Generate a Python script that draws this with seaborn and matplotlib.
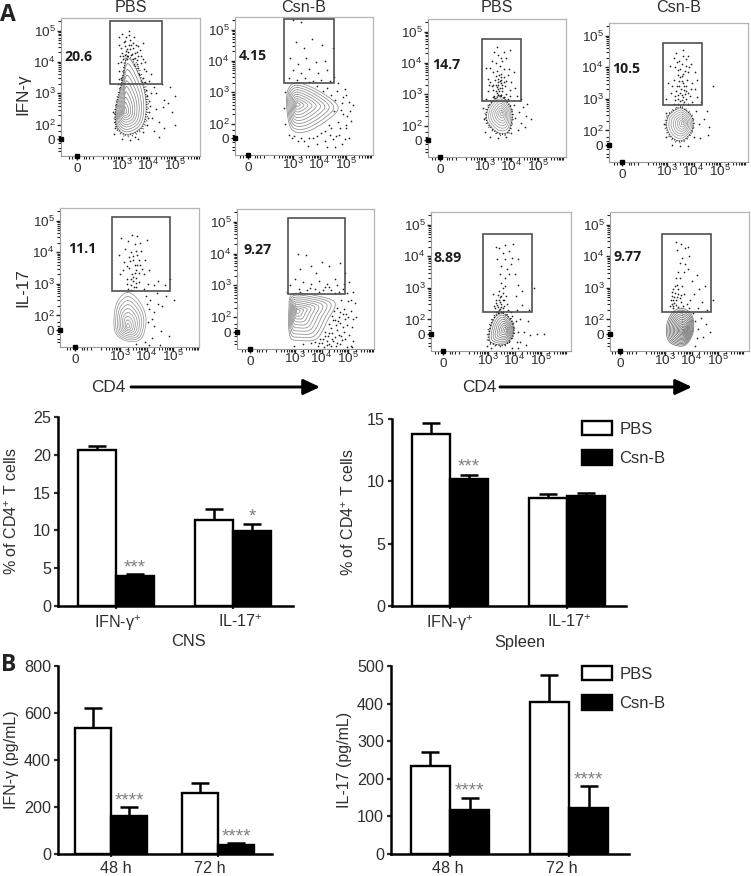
import numpy as np
import pandas as pd
import matplotlib
matplotlib.use("Agg")
import matplotlib.pyplot as plt
from matplotlib.patches import Patch, Rectangle, FancyArrowPatch
from matplotlib.transforms import ScaledTranslation
import seaborn as sns

W, H = 751, 876
DARK = "#2e2e2e"
sns.set_theme(style="white")
plt.rcParams["font.family"] = ["Liberation Sans", "DejaVu Sans"]
plt.rcParams["mathtext.fontset"] = "custom"
plt.rcParams["mathtext.rm"] = "Liberation Sans"
plt.rcParams["text.color"] = DARK
plt.rcParams["axes.labelcolor"] = DARK
plt.rcParams["xtick.color"] = DARK
plt.rcParams["ytick.color"] = DARK

# ---------- bar chart data ----------
TREATMENTS = ["PBS", "Csn-B"]
CNS_GROUPS = ["IFN-γ$^{+}$", "IL-17$^{+}$"]
CNS_PBS = [20.6, 11.4]
CNS_CSN = [4.0, 9.9]
CNS_PBS_TOP = [21.1, 12.8]
CNS_CSN_TOP = [4.2, 10.9]
CNS_STARS = ["***", "*"]

SPL_PBS = [13.8, 8.65]
SPL_CSN = [10.2, 8.8]
SPL_PBS_TOP = [14.7, 8.95]
SPL_CSN_TOP = [10.5, 9.05]
SPL_STARS = ["***", ""]

TIMES = ["48 h", "72 h"]
IFN_PBS = [538, 260]
IFN_CSN = [162, 38]
IFN_PBS_TOP = [620, 303]
IFN_CSN_TOP = [200, 48]
IFN_STARS = ["****", "****"]

IL_PBS = [235, 405]
IL_CSN = [118, 123]
IL_PBS_TOP = [272, 475]
IL_CSN_TOP = [150, 181]
IL_STARS = ["****", "****"]

# ---------- flow panel data (axes in decades; 1.3 is the "0" tick) ----------
FLOW_TITLES = ["PBS", "Csn-B", "PBS", "Csn-B", "", "", "", ""]
FLOW_PERCENT = ["20.6", "4.15", "14.7", "10.5", "11.1", "9.27", "8.89", "9.77"]
GATES = [(2.55, 4.51, 3.30, 5.30), (2.66, 4.55, 3.30, 5.34),
         (2.89, 4.36, 2.80, 4.77), (2.85, 4.32, 2.80, 4.77),
         (2.70, 4.89, 2.77, 5.11), (2.74, 4.89, 2.73, 5.11),
         (2.81, 4.66, 2.23, 4.70), (2.89, 4.74, 2.23, 4.70)]
PEAKS = [(3.11, 2.42), (3.15, 2.61), (3.64, 2.38), (3.60, 2.23),
         (3.30, 1.65), (3.08, 2.19), (3.68, 1.65), (3.68, 1.65)]
OUTLINE_1 = [(3.23, 4.13), (3.75, 3.34), (3.91, 2.57), (3.75, 1.94), (3.19, 1.69), (2.81, 1.94), (2.77, 2.48), (3.00, 3.34)]
OUTLINE_2 = [(3.19, 3.30), (4.02, 3.02), (4.70, 2.54), (4.32, 2.13), (3.53, 1.75), (2.96, 1.81), (2.77, 2.45), (2.81, 3.08)]
OUTLINE_3 = [(3.60, 2.92), (3.94, 2.61), (4.02, 2.26), (3.87, 1.81), (3.49, 1.78), (3.11, 2.10), (3.08, 2.45), (3.30, 2.77)]
OUTLINE_4 = [(3.57, 2.70), (3.94, 2.42), (3.94, 2.00), (3.60, 1.69), (3.23, 1.75), (3.00, 2.07), (3.04, 2.42), (3.30, 2.64)]
OUTLINE_5 = [(3.30, 2.73), (3.75, 2.42), (3.98, 1.90), (3.83, 1.30), (3.38, 1.17), (2.89, 1.37), (2.77, 1.78), (2.89, 2.42)]
OUTLINE_6 = [(2.92, 2.73), (3.83, 2.67), (4.51, 2.45), (4.25, 1.94), (3.83, 1.33), (3.19, 1.27), (2.81, 1.40), (2.77, 2.26)]
OUTLINE_7 = [(3.57, 2.19), (3.91, 1.91), (3.94, 1.50), (3.64, 1.21), (3.19, 1.24), (3.04, 1.43), (3.15, 1.88), (3.34, 2.13)]
OUTLINE_8 = [(3.64, 2.35), (4.02, 2.13), (4.06, 1.59), (3.75, 1.18), (3.30, 1.21), (3.08, 1.43), (3.08, 1.88), (3.30, 2.23)]
OUTLINES = [OUTLINE_1, OUTLINE_2, OUTLINE_3, OUTLINE_4, OUTLINE_5, OUTLINE_6, OUTLINE_7, OUTLINE_8]
LEVEL_COUNT = [10, 10, 8, 8, 9, 10, 9, 13]
CONTOUR_GREY = ["#8c8c8c", "#8c8c8c", "#9a9a9a", "#9a9a9a", "#999999", "#8c8c8c", "#808080", "#6e6e6e"]
RING_WEIGHT = [1.0, 0.0, 1.1, 1.0, 0.0, 0.0, 1.2, 0.0]

DOTS_1 = [(3.0,4.3),(3.1,4.5),(3.2,4.2),(3.3,4.4),(3.4,4.1),(3.5,4.3),(2.95,4.0),(3.05,4.1),(3.45,3.9),(3.55,4.05),
 (3.6,3.8),(2.9,3.7),(2.95,3.5),(3.65,3.6),(3.7,3.4),(2.85,3.3),(3.15,4.8),(3.3,4.7),(2.9,4.8),(3.0,4.9),(3.25,5.0),
 (3.4,4.6),(3.6,4.5),(3.7,4.2),(3.85,4.0),(3.9,3.7),(3.8,3.5),(4.1,3.6),(4.0,3.4),(4.2,3.2),(4.5,3.3),(4.8,3.2),
 (5.0,2.9),(4.6,2.8),(4.3,2.5),(4.9,2.4),(4.4,2.1),(5.0,2.0),(4.6,1.9),(4.2,1.8),(4.1,3.0),(4.05,2.6),(3.98,2.2),
 (3.95,2.9),(3.0,1.55),(3.3,1.5),(3.6,1.55),(2.7,1.7),(3.8,4.6),(2.75,2.1),(2.65,2.4),(3.15,4.35),(3.25,4.55),
 (3.38,4.25),(3.08,4.62),(2.98,4.45),(3.52,4.55),(3.12,4.22),(3.42,4.45),(3.22,4.32),(2.92,4.2),(3.62,4.2),(3.72,3.95),
 (4.3,3.0),(4.55,2.55),(4.75,2.7),(4.15,2.2),(4.4,1.6),(3.02,4.18),(3.18,4.08),(3.35,4.22),(3.48,4.14),(3.58,3.94),
 (3.12,4.68),(3.28,4.86),(3.44,4.78),(2.88,4.55),(3.68,4.38),(3.78,4.1),(3.82,3.78),(3.58,4.32),(3.18,4.42),(3.35,4.55),
 (2.84,3.95),(2.88,3.45),(3.88,3.35),(3.92,3.1),(4.0,2.75),(4.02,2.4),(3.95,2.0),(3.8,1.75),(3.5,1.62),(2.72,1.9)]
DOTS_2 = [(3.0,5.3),(3.3,5.25),(3.1,4.6),(3.4,4.4),(3.7,4.7),(4.1,4.5),(2.9,4.1),(3.2,3.9),(3.5,4.1),(3.85,3.95),
 (4.2,4.0),(4.5,4.4),(3.0,3.7),(3.3,3.6),(3.6,3.75),(3.95,3.6),(4.3,3.7),(4.55,3.5),(2.85,3.45),(3.15,3.4),(3.45,3.45),
 (3.75,3.35),(4.05,3.4),(4.4,3.35),(4.7,3.3),(4.95,3.1),(5.0,2.9),(4.65,3.05),(4.3,3.15),(5.1,2.7),(4.85,2.65),(5.15,2.4),
 (4.9,2.3),(5.2,2.1),(4.7,2.05),(5.0,1.85),(4.45,1.85),(4.75,1.65),(5.1,1.55),(4.2,1.75),(4.5,1.5),(3.9,1.6),(4.2,1.45),
 (4.85,1.35),(3.6,1.55),(3.9,1.35),(3.3,1.55),(3.55,1.3),(3.05,1.6),(2.85,1.65),(2.7,2.0),(2.65,2.5),(2.7,3.0),(4.6,1.25),
 (4.3,1.25),(5.0,1.95),(4.9,2.85),(4.6,2.75),(4.45,2.9),(5.25,2.6),(4.15,3.05),(3.9,3.2),(3.6,3.32),(4.8,2.45),(4.55,2.4),
 (4.35,1.95),(4.05,1.7),(3.75,1.55),(3.4,1.45),(5.05,2.25),(4.78,1.85),(4.62,1.6),(4.95,1.5),(4.4,1.65),(3.2,1.45),(2.95,1.55)]
DOTS_3 = [(3.5,3.5),(3.6,3.35),(3.7,3.55),(3.4,3.3),(3.55,3.2),(3.45,3.05),(3.65,3.1),(3.75,3.25),(3.3,3.15),(3.8,3.0),
 (3.35,2.95),(3.5,2.98),(3.95,2.95),(3.6,3.65),(3.45,3.75),(3.7,3.8),(3.3,3.7),(3.85,3.6),(4.0,3.4),(3.2,3.4),(3.1,3.1),
 (3.55,3.9),(3.4,4.0),(3.65,4.05),(3.8,4.15),(3.25,4.05),(3.5,4.25),(3.35,4.35),(3.7,4.35),(3.95,4.4),(3.05,3.85),(3.1,3.5),
 (4.1,3.7),(4.15,3.2),(4.2,2.95),(4.35,2.85),(4.45,2.6),(4.3,2.45),(4.6,2.7),(4.55,2.3),(4.35,2.1),(4.75,2.2),(4.25,1.85),
 (4.5,1.95),(4.1,2.65),(4.15,2.25),(3.0,1.8),(2.95,2.2),(3.2,1.65),(3.5,1.6),(3.8,1.65),(4.0,1.75),(2.92,2.55),(3.05,2.85),
 (3.6,3.45),(3.48,3.4),(3.58,2.95),(3.42,3.58),(3.63,3.28),(3.52,3.12),(3.72,2.92),(3.38,3.45),(3.44,3.22),(3.56,3.42),
 (3.66,3.2),(3.5,3.3),(3.4,3.12),(3.62,3.55),(3.54,3.62),(3.48,3.18),(3.7,3.4),(3.32,3.3),(3.78,3.42),(3.25,3.25),
 (3.3,2.9),(3.42,2.88),(3.62,2.98),(3.85,2.85),(3.95,3.15),(3.15,3.3),(3.9,3.8),(3.2,3.85),(3.6,4.15),(3.45,4.5)]
DOTS_4 = [(3.4,3.0),(3.5,3.2),(3.6,3.05),(3.7,3.25),(3.45,3.4),(3.55,3.55),(3.65,3.4),(3.75,3.6),(3.35,3.25),(3.85,3.1),
 (3.3,2.95),(3.95,2.9),(3.25,3.6),(3.4,3.75),(3.6,3.8),(3.8,3.85),(3.95,3.5),(3.15,3.2),(4.05,3.3),(3.5,3.95),(3.3,4.0),
 (3.7,4.05),(3.9,4.1),(3.45,4.2),(3.6,4.35),(3.25,4.3),(3.8,4.35),(3.1,4.05),(4.05,3.85),(4.15,3.6),(3.35,4.45),(3.6,4.55),
 (3.05,3.5),(2.98,3.0),(4.15,3.05),(4.3,2.9),(4.5,2.6),(4.75,3.4),(4.4,2.35),(4.6,2.1),(4.2,2.2),(4.25,1.75),(4.55,1.85),
 (4.1,2.6),(3.2,1.55),(3.5,1.5),(3.8,1.5),(2.95,1.8),(2.9,2.2),(2.95,2.55),(4.02,1.8),(3.52,3.32),(3.62,3.5),(3.42,3.12),
 (3.72,3.0),(3.58,3.72),(3.48,2.92),(3.68,3.15),(3.55,2.95),(3.65,2.9),(3.38,3.4),(3.44,3.55),(3.56,3.12),(3.64,3.28),
 (3.5,3.68),(3.72,3.42),(3.8,3.2),(3.32,3.1),(3.28,2.85),(3.42,2.85),(3.6,2.85),(3.78,2.85),(3.9,3.3),(3.2,3.4),
 (3.68,3.88),(3.42,3.92),(3.58,4.1),(3.82,4.02),(3.38,4.15),(3.72,4.25)]
DOTS_5 = [(3.4,2.95),(3.5,3.1),(3.6,2.9),(3.3,2.85),(3.7,3.05),(3.45,3.3),(3.6,3.45),(3.35,3.5),(3.75,3.6),(3.25,3.15),
 (3.9,3.3),(3.15,3.7),(3.5,3.75),(3.65,3.9),(3.4,4.0),(3.8,4.05),(3.2,4.1),(3.55,4.25),(3.3,4.35),(3.75,4.3),(3.05,4.45),
 (3.95,3.75),(4.1,3.45),(4.05,3.0),(3.45,4.55),(3.65,4.5),(4.0,4.4),(2.95,3.9),(3.0,3.3),(3.55,3.6),(3.48,3.88),(3.62,3.2),
 (3.38,3.72),(3.72,3.35),(4.3,2.95),(4.45,3.1),(4.7,2.95),(4.9,3.15),(5.05,2.5),(4.75,2.6),(4.4,2.7),(4.15,2.5),(4.1,2.2),
 (4.3,2.1),(4.6,2.3),(4.05,1.8),(4.3,1.65),(4.55,1.5),(4.85,1.35),(4.2,1.3),(4.5,1.05),(3.95,1.15),(4.1,1.05),(3.6,1.08),
 (4.2,1.9),(4.45,2.35),(3.42,3.15),(3.55,3.35),(3.25,3.55),(3.7,3.75),(3.52,2.9),(3.42,2.82),(3.62,3.02),(3.28,3.0),
 (3.5,3.22),(3.66,3.58),(3.84,3.48),(3.1,3.45),(3.34,3.85),(3.6,4.05),(3.9,2.85),(3.98,2.6),(4.02,2.35)]
DOTS_6 = [(3.1,4.0),(3.4,3.95),(3.8,3.4),(4.3,3.6),(4.7,3.7),(4.9,3.4),(3.2,3.5),(3.6,3.6),(4.0,3.75),(4.5,3.2),(3.0,3.2),
 (3.3,3.1),(3.6,3.05),(3.9,3.15),(4.2,3.05),(4.6,3.0),(4.85,3.05),(5.05,3.1),(3.15,2.9),(3.45,2.85),(3.75,2.9),(4.05,2.85),
 (4.35,2.85),(4.65,2.8),(4.95,2.75),(5.2,2.8),(4.75,2.55),(5.0,2.5),(5.25,2.45),(4.6,2.3),(4.85,2.25),(5.1,2.2),(5.3,2.0),
 (4.4,2.05),(4.65,2.0),(4.9,1.95),(5.15,1.7),(4.3,1.8),(4.55,1.75),(4.8,1.7),(5.05,1.45),(4.15,1.55),(4.4,1.5),(4.65,1.45),
 (4.9,1.3),(5.2,1.25),(3.95,1.3),(4.2,1.25),(4.45,1.25),(4.7,1.15),(3.6,1.2),(3.85,1.1),(4.1,1.05),(4.35,1.1),(4.95,1.05),
 (5.15,1.05),(3.3,1.15),(2.95,1.1),(4.5,1.9),(4.75,1.4),(4.25,1.4),(4.6,1.2),(4.85,1.55),(5.0,2.0),(4.4,1.3),(4.55,1.1),
 (4.0,1.2),(4.3,1.15),(4.8,2.1),(4.95,1.75),(5.1,1.1),(2.8,3.0),(2.7,2.8),(4.48,2.2),(4.7,1.82),(4.35,1.65),(4.58,1.6),
 (4.12,1.4),(4.22,1.12),(4.5,1.38),(4.78,1.28),(3.92,1.18),(3.75,1.22),(4.05,1.3),(4.62,1.88),(4.92,2.1),(4.3,2.95),
 (3.55,2.92),(3.9,2.8),(3.2,2.8),(4.15,2.95),(4.5,2.75),(4.8,2.9),(5.1,2.55),(5.2,1.95),(4.42,1.9),(4.68,2.15),(4.28,1.5)]
DOTS_7 = [(3.4,2.3),(3.5,2.5),(3.45,2.7),(3.35,2.45),(3.55,2.35),(3.3,2.6),(3.6,2.6),(3.4,2.9),(3.55,2.85),(3.65,3.05),
 (3.3,2.25),(3.2,2.8),(3.75,2.3),(3.5,3.15),(3.65,3.3),(3.8,3.45),(3.45,3.45),(3.7,3.6),(3.85,3.75),(3.5,3.7),(3.35,3.9),
 (3.65,3.9),(3.9,3.95),(3.55,4.1),(3.8,4.15),(3.4,4.25),(3.65,4.35),(3.95,4.4),(3.3,4.3),(4.15,3.9),(4.0,3.45),(4.15,3.1),
 (4.05,2.75),(4.3,2.45),(4.55,2.3),(4.75,3.0),(4.5,1.95),(4.2,2.0),(4.35,1.6),(4.6,1.5),(5.1,1.55),(4.85,1.55),(4.2,1.3),
 (4.45,1.2),(4.15,1.1),(3.9,1.1),(4.1,2.3),(4.3,2.9),(3.36,2.38),(3.44,2.55),(3.52,2.22),(3.38,2.78),(3.28,2.35),(3.48,2.4),
 (3.62,2.42),(2.95,1.15),(3.1,1.1),(3.42,2.2),(3.72,2.5),(3.85,2.25),(3.4,2.62),(3.46,2.32),(3.32,2.52),(3.56,2.62),
 (3.36,2.2),(3.5,2.75),(3.58,3.0),(3.24,2.42),(3.68,2.75),(3.9,2.1),(4.05,1.95),(4.12,1.6),(4.08,1.3)]
DOTS_8 = [(3.4,2.6),(3.5,2.8),(3.3,2.95),(3.45,3.1),(3.55,3.3),(3.35,2.7),(3.6,2.55),(3.25,2.5),(3.4,3.3),(3.65,3.05),
 (3.7,3.5),(3.5,3.5),(3.75,3.75),(3.55,3.8),(3.85,3.6),(3.65,3.95),(3.9,4.0),(3.45,4.2),(3.75,4.25),(3.6,4.4),(3.4,4.45),
 (3.85,4.3),(3.3,2.35),(3.5,2.4),(3.7,2.8),(3.95,2.6),(4.1,2.8),(3.9,2.35),(4.25,2.35),(4.4,2.55),(4.6,2.3),(4.8,2.6),
 (4.35,2.05),(4.15,1.95),(4.55,1.85),(4.25,1.7),(4.45,1.45),(4.2,1.4),(4.15,1.15),(4.7,1.6),(4.05,2.2),(3.32,2.62),(3.38,2.85),
 (3.28,2.75),(3.42,2.45),(3.22,2.62),(3.36,3.05),(3.5,2.95),(3.62,2.78),(4.3,2.95),(4.5,3.05),(4.0,3.2),(4.2,3.4),
 (3.26,2.88),(3.34,2.52),(3.44,2.72),(3.3,2.42),(3.2,2.42),(3.55,2.68),(3.82,2.5),(3.68,2.42)]
DOTS = [DOTS_1, DOTS_2, DOTS_3, DOTS_4, DOTS_5, DOTS_6, DOTS_7, DOTS_8]

# ---------- layout (pixels of the 751x876 figure) ----------
FLOW_BOX = [(61, 18, 200, 156), (235, 17, 373, 155), (428, 19, 566, 157), (609, 23, 748, 162),
            (60, 208, 199, 347), (237, 209, 374, 349), (431, 212, 571, 351), (610, 212, 749, 351)]
FLOW_X3 = [61, 58, 57, 58, 60, 58, 57, 55]          # px from the left edge to the 10^3 tick
FLOW_PCT_POS = [(3, 39), (4, 39), (4, 46), (3, 46), (8, 41), (6, 41), (3, 46), (3, 45)]
DECADE_X = 26.5
X_TICKS = [1.3, 3, 4, 5]
Y_TICKS = [1.53, 2, 3, 4, 5]
YLIM = (1.0, 5.4)


def axes_px(fig, l, t, r, b):
    return fig.add_axes([l / W, 1 - b / H, (r - l) / W, (b - t) / H])


def smooth_closed(points, per_segment=14):
    p = np.asarray(points, float)
    n = len(p)
    out = []
    for i in range(n):
        p0, p1, p2, p3 = p[(i - 1) % n], p[i], p[(i + 1) % n], p[(i + 2) % n]
        for t in np.linspace(0, 1, per_segment, endpoint=False):
            out.append(0.5 * (2 * p1 + (p2 - p0) * t + (2 * p0 - 5 * p1 + 4 * p2 - p3) * t ** 2
                              + (3 * p1 - p0 - 3 * p2 + p3) * t ** 3))
    out.append(out[0])
    return np.array(out)


def decade_label(v):
    return "0" if v < 1.9 else r"$\mathregular{10^{%d}}$" % round(v)


def minor_positions(lo, hi):
    vals = []
    for d in range(2, 6):
        vals += list(d + np.log10(np.arange(2, 10)))
    return [v for v in vals if lo < v < hi]


def flow_panel(fig, i):
    l, t, r, b = FLOW_BOX[i]
    ax = axes_px(fig, l, t, r, b)
    x0 = 3 - FLOW_X3[i] / DECADE_X
    ax.set_xlim(x0, x0 + (r - l) / DECADE_X)
    ax.set_ylim(*YLIM)
    d = pd.DataFrame(DOTS[i], columns=["cd4", "cyt"])
    sns.scatterplot(data=d, x="cd4", y="cyt", s=1.5, color="#222222", linewidth=0, ax=ax, zorder=2)
    out = smooth_closed(OUTLINES[i])
    px, py = PEAKS[i]
    n = LEVEL_COUNT[i]
    for k in range(n):
        f = (1 - k / n) ** 1.1
        ax.plot(px + (out[:, 0] - px) * f, py + (out[:, 1] - py) * f,
                color=CONTOUR_GREY[i], lw=0.55, zorder=3)
    if RING_WEIGHT[i] > 0:
        for scale, pattern in [(1.03, (0.6, 1.2)), (1.10, (0.5, 2.6))]:
            ax.plot(px + (out[:, 0] - px) * scale, py + (out[:, 1] - py) * scale,
                    color="#111111", lw=RING_WEIGHT[i], ls=(0, pattern), zorder=3)
    g = GATES[i]
    ax.add_patch(Rectangle((g[0], g[2]), g[1] - g[0], g[3] - g[2], fill=False, ec="#505050", lw=1.2, zorder=4))
    for s in ["top", "right"]:
        ax.spines[s].set_color("#b5b5b5")
        ax.spines[s].set_linewidth(0.9)
    for s in ["left", "bottom"]:
        ax.spines[s].set_color("#9a9a9a")
        ax.spines[s].set_linewidth(0.8)
    ax.set_xticks(X_TICKS)
    ax.set_xticklabels([decade_label(v) for v in X_TICKS], fontsize=9.7)
    ax.set_yticks(Y_TICKS)
    ax.set_yticklabels([decade_label(v) for v in Y_TICKS], fontsize=9.7)
    ax.set_xticks(minor_positions(*ax.get_xlim()) + [1.0, 1.1, 1.55, 1.65, 1.75, 1.9], minor=True)
    ax.set_yticks(minor_positions(*YLIM) + [1.15, 1.25, 1.4, 1.65, 1.8], minor=True)
    ax.tick_params(axis="x", which="major", length=3, width=1.0, pad=0, direction="out", color="#222222", bottom=True)
    ax.tick_params(axis="y", which="major", length=3, width=1.0, pad=1, direction="out", color="#222222", left=True)
    ax.tick_params(which="minor", length=2, width=0.8, direction="out", color="#222222", bottom=True, left=True)
    for lab, v in zip(ax.get_xticklabels(), X_TICKS):
        dy = -3 if v < 1.9 else 2
        lab.set_transform(lab.get_transform() + ScaledTranslation(0, dy / 100, fig.dpi_scale_trans))
    ax.plot([1.3], [0], marker="s", ms=3.4, color="black", transform=ax.get_xaxis_transform(), clip_on=False, zorder=6)
    ax.plot([0], [1.53], marker="s", ms=2.8, color="black", transform=ax.get_yaxis_transform(), clip_on=False, zorder=6)
    ax.set_xlabel("")
    ax.set_ylabel("")
    pdx, pdy = FLOW_PCT_POS[i]
    ax.text(pdx / (r - l), 1 - pdy / (b - t), FLOW_PERCENT[i], transform=ax.transAxes, family="Open Sans",
            fontweight="bold", fontsize=10.2, color="#1c1c1c", va="center", ha="left", zorder=7)
    if FLOW_TITLES[i]:
        ax.text(0.5 * (l + r) / W, 1 - 7 / H, FLOW_TITLES[i], transform=fig.transFigure,
                fontsize=11.6, ha="center", va="center")


def bar_panel(fig, box, tick_px, groups, pbs, csn, pbs_top, csn_top, stars, yticks, ylabel, ylabel_x,
              label_shift, star_offset, bar_width, xlabel=None, xlabel_x=None, legend_anchor=None):
    l, t, r, b = box
    ax = axes_px(fig, l, t, r, b)
    sp = tick_px[1] - tick_px[0]
    df = pd.DataFrame({"group": groups * 2,
                       "treatment": [TREATMENTS[0]] * 2 + [TREATMENTS[1]] * 2,
                       "value": list(pbs) + list(csn)})
    sns.barplot(data=df, x="group", y="value", hue="treatment", order=groups, hue_order=TREATMENTS,
                palette={"PBS": "white", "Csn-B": "black"}, width=bar_width, gap=0, edgecolor="black", linewidth=1.7,
                legend=False, errorbar=None, ax=ax, zorder=3)
    bars = ax.patches
    tops = list(pbs_top) + list(csn_top)
    vals = list(pbs) + list(csn)
    for p, v, tp in zip(bars, vals, tops):
        cx = p.get_x() + p.get_width() / 2
        ax.errorbar([cx], [v], yerr=[[0], [tp - v]], color="black", elinewidth=1.8, capthick=1.8, capsize=6.3, zorder=2)
    ax.set_xlim((l - tick_px[0]) / sp, (r - tick_px[0]) / sp)
    ax.set_ylim(0, yticks[-1])
    ax.set_yticks(yticks)
    ax.tick_params(axis="y", labelsize=11.6, length=3, width=1.6, pad=2, left=True)
    ax.tick_params(axis="x", labelsize=11.6, length=2.5, width=1.6, pad=2.5, bottom=True)
    for s in ["top", "right"]:
        ax.spines[s].set_visible(False)
    for s in ["left", "bottom"]:
        ax.spines[s].set_color("black")
        ax.spines[s].set_linewidth(1.8)
    for lab, dx in zip(ax.get_xticklabels(), label_shift):
        lab.set_transform(lab.get_transform() + ScaledTranslation(dx / 100, 0, fig.dpi_scale_trans))
    ax.set_xlabel("")
    ax.set_ylabel("")
    fig.text(ylabel_x / W, 1 - (t + b) / 2 / H, ylabel, rotation=90, fontsize=11.5, ha="center", va="center")
    for p, tp, st in zip(bars[2:], csn_top, stars):
        if st:
            cx = p.get_x() + p.get_width() / 2
            ax.annotate(st, (cx, tp), xytext=(0, star_offset), textcoords="offset points", color="#808080",
                        fontsize=13.5, ha="center", va="center", annotation_clip=False)
    if xlabel:
        fig.text(xlabel_x / W, 1 - 642 / H, xlabel, fontsize=11.8, ha="center", va="center")
    if legend_anchor:
        handles = [Patch(facecolor="white", edgecolor="black", linewidth=1.7, label="PBS"),
                   Patch(facecolor="black", edgecolor="black", linewidth=1.7, label="Csn-B")]
        fig.legend(handles=handles, loc="upper left", bbox_to_anchor=(legend_anchor[0] / W, 1 - legend_anchor[1] / H),
                   frameon=False, fontsize=12, handlelength=1.8, handleheight=0.95, handletextpad=0.45,
                   labelspacing=0.8, borderpad=0, borderaxespad=0, labelcolor=DARK)
    return ax


fig = plt.figure(figsize=(W / 100, H / 100), dpi=100, facecolor="white")

for i in range(8):
    flow_panel(fig, i)

bar_panel(fig, (58, 417, 293, 606), (116, 233), CNS_GROUPS, CNS_PBS, CNS_CSN, CNS_PBS_TOP, CNS_CSN_TOP, CNS_STARS,
          [0, 5, 10, 15, 20, 25], "% of CD4$^{+}$ T cells", 12, (2, 7), 4.5, 0.65, xlabel="CNS", xlabel_x=188)
bar_panel(fig, (392, 419, 626, 606), (450, 567), CNS_GROUPS, SPL_PBS, SPL_CSN, SPL_PBS_TOP, SPL_CSN_TOP, SPL_STARS,
          [0, 5, 10, 15], "% of CD4$^{+}$ T cells", 349, (0, 2), 5.5, 0.65, xlabel="Spleen", xlabel_x=520,
          legend_anchor=(582, 421))
bar_panel(fig, (58, 666, 272, 854), (111, 218), TIMES, IFN_PBS, IFN_CSN, IFN_PBS_TOP, IFN_CSN_TOP, IFN_STARS,
          [0, 200, 400, 600, 800], "IFN-γ (pg/mL)", 12, (5, -8), 4.5, 0.67)
bar_panel(fig, (391, 666, 629, 854), (450, 569), TIMES, IL_PBS, IL_CSN, IL_PBS_TOP, IL_CSN_TOP, IL_STARS,
          [0, 100, 200, 300, 400, 500], "IL-17 (pg/mL)", 344, (-2, -7), 4.5, 0.66, legend_anchor=(582, 666))

fig.text(8 / W, 1 - 15 / H, "A", fontsize=16.5, fontweight="bold", family="Open Sans", color="#222222", ha="center", va="center")
fig.text(9 / W, 1 - 665 / H, "B", fontsize=16.5, fontweight="bold", family="Open Sans", color="#222222", ha="center", va="center")
fig.text(23 / W, 1 - 94 / H, "IFN-γ", rotation=90, fontsize=12.3, ha="center", va="center")
fig.text(23 / W, 1 - 288 / H, "IL-17", rotation=90, fontsize=12.3, ha="center", va="center")
for text_x, x1, x2 in [(108, 131, 320), (479, 500, 692)]:
    fig.text(text_x / W, 1 - 387 / H, "CD4", fontsize=12.4, ha="center", va="center")
    fig.add_artist(FancyArrowPatch(
        (x1 / W, 1 - 387 / H), (x2 / W, 1 - 387 / H), transform=fig.transFigure,
        arrowstyle="-|>,head_length=3.85,head_width=1.8", lw=2.1, color="black", shrinkA=0, shrinkB=0, mutation_scale=2.6))

fig.savefig("out.png", dpi=100, facecolor="white")
